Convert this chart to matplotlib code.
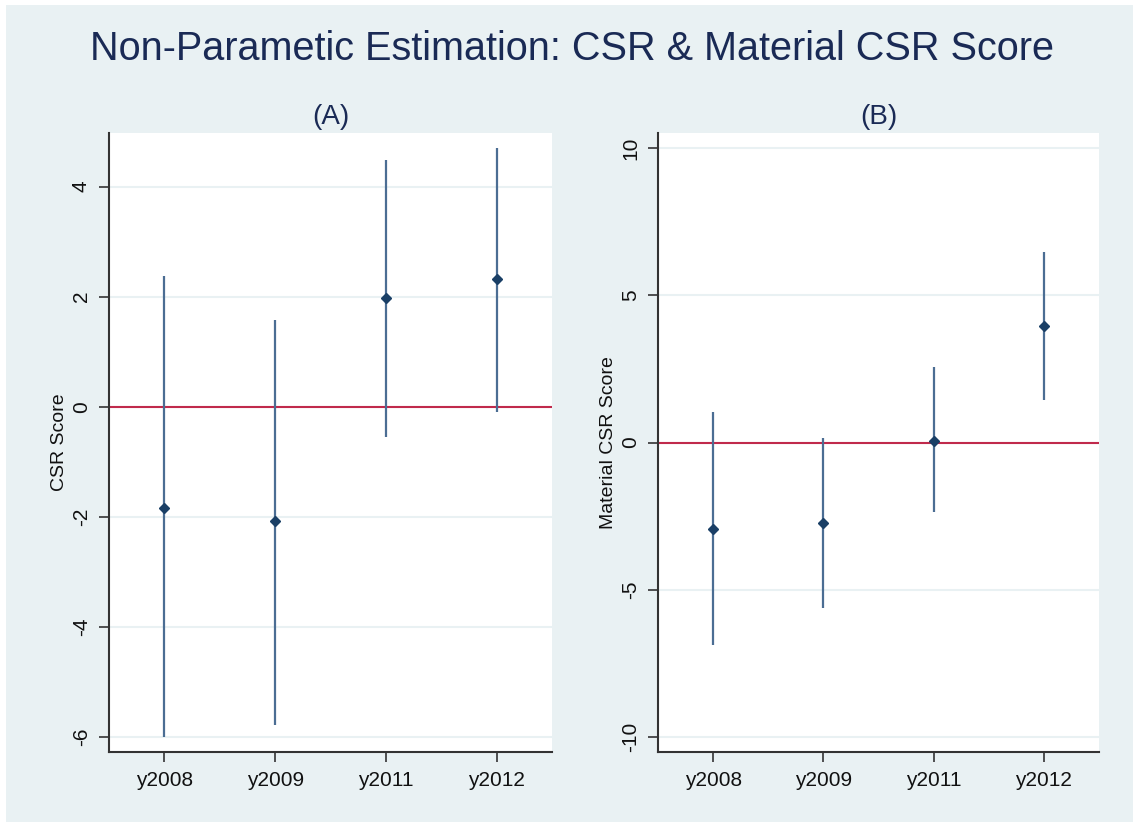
import numpy as np
import matplotlib
matplotlib.use("Agg")
import matplotlib.pyplot as plt
from matplotlib.patches import Rectangle

# year dummies on the x axis
years = ["y2008", "y2009", "y2011", "y2012"]

# (A) CSR score: point estimate and 95% CI
csr_est = [-1.83, -2.08, 1.98, 2.32]
csr_lo = [-6.00, -5.78, -0.55, -0.10]
csr_hi = [2.37, 1.58, 4.48, 4.71]

# (B) Material CSR score
mat_est = [-2.94, -2.74, 0.07, 3.96]
mat_lo = [-6.87, -5.62, -2.35, 1.45]
mat_hi = [1.05, 0.17, 2.55, 6.48]

bg = "#e9f1f3"
navy = "#1a3f66"
bar_col = "#4b6d93"
red = "#c02a4c"
txt = "#1a2a55"

plt.rcParams["font.family"] = ["Liberation Sans", "DejaVu Sans"]

fig = plt.figure(figsize=(11.33, 8.25), dpi=100, facecolor="white")
fig.patches.append(Rectangle((6 / 1133, 3 / 825), 1 - 6 / 1133, 1 - 8 / 825,
                             transform=fig.transFigure, facecolor=bg,
                             edgecolor="none", zorder=-10))


def panel(rect, est, lo, hi, ylim, yticks, ylabel, title):
    ax = fig.add_axes(rect)
    ax.set_facecolor("white")
    x = np.arange(len(years))
    for t in yticks:
        ax.axhline(t, color=bg, lw=1.5, zorder=1)
    ax.axhline(0, color=red, lw=1.5, zorder=2)
    ax.vlines(x, lo, hi, color=bar_col, lw=1.6, zorder=3)
    ax.plot(x, est, "D", color=navy, ms=5.5, linestyle="none", zorder=4)
    ax.set_xlim(-0.5, 3.5)
    ax.set_ylim(*ylim)
    ax.set_xticks(x)
    ax.set_xticklabels(years)
    ax.set_yticks(yticks)
    ax.set_yticklabels([str(t) for t in yticks])
    for s in ["top", "right"]:
        ax.spines[s].set_visible(False)
    for s in ["left", "bottom"]:
        ax.spines[s].set_color("#333333")
        ax.spines[s].set_linewidth(1.5)
    ax.tick_params(axis="both", length=7, width=1.2, color="#333333",
                   labelsize=15, labelcolor="#111111", pad=7)
    ax.tick_params(axis="y", labelrotation=90, pad=6)
    for lab in ax.get_yticklabels():
        lab.set_va("center")
    ax.set_ylabel(ylabel, fontsize=14, color="#111111", labelpad=3)
    ax.set_title(title, fontsize=20, color=txt, pad=7)
    return ax


panel([0.0962, 0.0885, 0.391, 0.75], csr_est, csr_lo, csr_hi,
      (-6.27, 4.97), [-6, -4, -2, 0, 2, 4], "CSR Score", "(A)")
panel([0.5808, 0.0885, 0.3892, 0.75], mat_est, mat_lo, mat_hi,
      (-10.5, 10.5), [-10, -5, 0, 5, 10], "Material CSR Score", "(B)")

fig.suptitle("Non-Parametic Estimation: CSR & Material CSR Score",
             x=0.505, y=0.94, va="center", fontsize=28.5, color=txt)

fig.savefig("out.png", dpi=100, facecolor="white")
